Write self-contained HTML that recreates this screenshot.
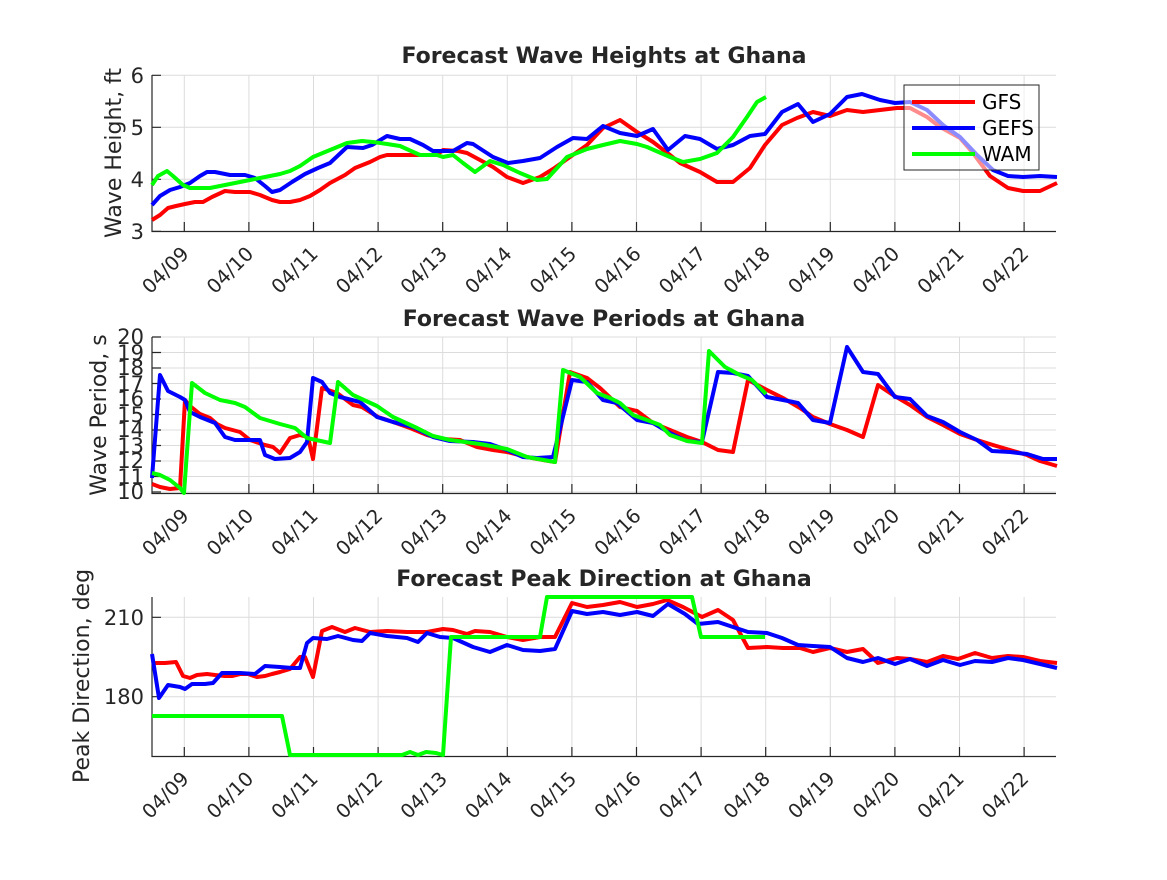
<!DOCTYPE html>
<html><head><meta charset="utf-8"><style>
html,body{margin:0;padding:0;background:#fff}
svg text{font-family:"DejaVu Sans","Liberation Sans",sans-serif;fill:#262626}
</style></head><body>
<svg width="1167" height="875" viewBox="0 0 1167 875" xmlns="http://www.w3.org/2000/svg">
<g stroke="#dcdcdc" stroke-width="1" fill="none">
<path d="M184.3 75V231M248.9 75V231M313.5 75V231M378.1 75V231M442.7 75V231M507.3 75V231M571.9 75V231M636.5 75V231M701.1 75V231M765.7 75V231M830.3 75V231M894.9 75V231M959.5 75V231M1024.1 75V231"/>
<path d="M152 75.3H1056M152 127.3H1056M152 179.3H1056"/>
<path d="M184.3 337V493M248.9 337V493M313.5 337V493M378.1 337V493M442.7 337V493M507.3 337V493M571.9 337V493M636.5 337V493M701.1 337V493M765.7 337V493M830.3 337V493M894.9 337V493M959.5 337V493M1024.1 337V493"/>
<path d="M152 337H1056M152 352.5H1056M152 368H1056M152 383.5H1056M152 399H1056M152 414.5H1056M152 430H1056M152 445.5H1056M152 461H1056M152 476.5H1056M152 492H1056"/>
<path d="M184.3 597V756M248.9 597V756M313.5 597V756M378.1 597V756M442.7 597V756M507.3 597V756M571.9 597V756M636.5 597V756M701.1 597V756M765.7 597V756M830.3 597V756M894.9 597V756M959.5 597V756M1024.1 597V756"/>
<path d="M152 617.3H1056M152 696.7H1056"/>
</g>
<g stroke="#262626" stroke-width="1.2" fill="none">
<path d="M152 75V231.5H1056"/>
<path d="M184.3 231V222M248.9 231V222M313.5 231V222M378.1 231V222M442.7 231V222M507.3 231V222M571.9 231V222M636.5 231V222M701.1 231V222M765.7 231V222M830.3 231V222M894.9 231V222M959.5 231V222M1024.1 231V222"/>
<path d="M152 75.3H161M152 127.3H161M152 179.3H161M152 231.3H161"/>
<path d="M152 337V493.5H1056"/>
<path d="M184.3 493V484M248.9 493V484M313.5 493V484M378.1 493V484M442.7 493V484M507.3 493V484M571.9 493V484M636.5 493V484M701.1 493V484M765.7 493V484M830.3 493V484M894.9 493V484M959.5 493V484M1024.1 493V484"/>
<path d="M152 337H161M152 352.5H161M152 368H161M152 383.5H161M152 399H161M152 414.5H161M152 430H161M152 445.5H161M152 461H161M152 476.5H161M152 492H161"/>
<path d="M152 597V756.5H1056"/>
<path d="M184.3 756V747M248.9 756V747M313.5 756V747M378.1 756V747M442.7 756V747M507.3 756V747M571.9 756V747M636.5 756V747M701.1 756V747M765.7 756V747M830.3 756V747M894.9 756V747M959.5 756V747M1024.1 756V747"/>
<path d="M152 617.3H161M152 696.7H161"/>
</g>

<g font-weight="bold" font-size="22" text-anchor="middle">
<text x="604" y="63">Forecast Wave Heights at Ghana</text>
<text x="604" y="326">Forecast Wave Periods at Ghana</text>
<text x="604" y="586">Forecast Peak Direction at Ghana</text>
</g>
<g font-size="22" text-anchor="middle">
<text transform="translate(121,153) rotate(-90)">Wave Height, ft</text>
<text transform="translate(106,415) rotate(-90)">Wave Period, s</text>
<text transform="translate(89,676) rotate(-90)">Peak Direction, deg</text>
</g>
<g font-size="21" text-anchor="end">
<text x="144" y="83">6</text><text x="144" y="135">5</text><text x="144" y="187">4</text><text x="144" y="239">3</text>
<text x="144" y="344">20</text><text x="144" y="360">19</text><text x="144" y="375">18</text><text x="144" y="391">17</text><text x="144" y="406">16</text><text x="144" y="422">15</text><text x="144" y="437">14</text><text x="144" y="453">13</text><text x="144" y="468">12</text><text x="144" y="484">11</text><text x="144" y="499">10</text>
<text x="144" y="625">210</text><text x="144" y="704">180</text>
</g>
<g font-size="19.5" text-anchor="end">
<text transform="translate(190,255) rotate(-45)">04/09</text>
<text transform="translate(254.6,255) rotate(-45)">04/10</text>
<text transform="translate(319.2,255) rotate(-45)">04/11</text>
<text transform="translate(383.8,255) rotate(-45)">04/12</text>
<text transform="translate(448.4,255) rotate(-45)">04/13</text>
<text transform="translate(513,255) rotate(-45)">04/14</text>
<text transform="translate(577.6,255) rotate(-45)">04/15</text>
<text transform="translate(642.2,255) rotate(-45)">04/16</text>
<text transform="translate(706.8,255) rotate(-45)">04/17</text>
<text transform="translate(771.4,255) rotate(-45)">04/18</text>
<text transform="translate(836,255) rotate(-45)">04/19</text>
<text transform="translate(900.6,255) rotate(-45)">04/20</text>
<text transform="translate(965.2,255) rotate(-45)">04/21</text>
<text transform="translate(1029.8,255) rotate(-45)">04/22</text>
</g>
<g font-size="19.5" text-anchor="end" transform="translate(0,262)">
<text transform="translate(190,255) rotate(-45)">04/09</text>
<text transform="translate(254.6,255) rotate(-45)">04/10</text>
<text transform="translate(319.2,255) rotate(-45)">04/11</text>
<text transform="translate(383.8,255) rotate(-45)">04/12</text>
<text transform="translate(448.4,255) rotate(-45)">04/13</text>
<text transform="translate(513,255) rotate(-45)">04/14</text>
<text transform="translate(577.6,255) rotate(-45)">04/15</text>
<text transform="translate(642.2,255) rotate(-45)">04/16</text>
<text transform="translate(706.8,255) rotate(-45)">04/17</text>
<text transform="translate(771.4,255) rotate(-45)">04/18</text>
<text transform="translate(836,255) rotate(-45)">04/19</text>
<text transform="translate(900.6,255) rotate(-45)">04/20</text>
<text transform="translate(965.2,255) rotate(-45)">04/21</text>
<text transform="translate(1029.8,255) rotate(-45)">04/22</text>
</g>
<g font-size="19.5" text-anchor="end" transform="translate(0,525)">
<text transform="translate(190,255) rotate(-45)">04/09</text>
<text transform="translate(254.6,255) rotate(-45)">04/10</text>
<text transform="translate(319.2,255) rotate(-45)">04/11</text>
<text transform="translate(383.8,255) rotate(-45)">04/12</text>
<text transform="translate(448.4,255) rotate(-45)">04/13</text>
<text transform="translate(513,255) rotate(-45)">04/14</text>
<text transform="translate(577.6,255) rotate(-45)">04/15</text>
<text transform="translate(642.2,255) rotate(-45)">04/16</text>
<text transform="translate(706.8,255) rotate(-45)">04/17</text>
<text transform="translate(771.4,255) rotate(-45)">04/18</text>
<text transform="translate(836,255) rotate(-45)">04/19</text>
<text transform="translate(900.6,255) rotate(-45)">04/20</text>
<text transform="translate(965.2,255) rotate(-45)">04/21</text>
<text transform="translate(1029.8,255) rotate(-45)">04/22</text>
</g>

<g fill="none" stroke-width="4" stroke-linejoin="round">
<polyline stroke="#ff0000" points="152,220 160,215 168,208 176,206 185,204 195,202 203,202 212,197 225,191 235,192 250,192 260,195 272,200 280,202 290,202 300,200 310,196 320,190 330,183 345,175 355,168 370,162 380,157 387,155 400,155 420,155 437,155 443,150 458,151 467,153 480,160 493,167 507,177 523,183 540,177 553,169 570,157 587,145 603,128 620,120 637,132 653,142 670,155 680,163 700,172 717,182 733,182 750,168 765,145 782,125 797,118 813,112 830,116 847,110 863,112 897,108 910,108 927,117 940,127 960,138 973,153 990,176 1008,188 1023,191 1040,191 1057,183"/>
<polyline stroke="#0000ff" points="152,205 160,196 170,190 180,187 190,183 200,176 207,172 215,172 230,175 245,175 255,178 265,186 272,192 280,190 292,182 305,174 318,168 330,163 347,147 363,148 372,145 387,136 400,139 410,139 423,145 433,151 453,151 467,143 473,144 493,157 508,163 523,161 540,158 557,147 573,138 587,139 603,126 620,133 637,136 653,129 668,150 685,136 700,139 717,149 733,145 750,136 765,134 782,112 798,104 813,122 830,114 847,97 862,94 880,100 895,103 910,102 927,110 943,125 960,137 977,155 993,170 1008,176 1023,177 1040,176 1057,177"/>
<polyline stroke="#00ff00" points="152,185 158,176 167,171 173,176 183,185 190,188 200,188 210,188 220,186 235,183 250,180 265,177 280,174 290,171 300,166 313,157 330,150 347,143 362,141 373,142 387,144 400,146 420,155 437,155 443,157 453,155 463,163 475,172 490,161 503,165 520,173 537,180 547,179 567,157 587,149 603,145 620,141 637,144 647,147 670,157 683,162 700,159 717,153 733,137 747,117 757,102 766,97"/>
<polyline stroke="#ff0000" points="152,484 160,487 170,489 180,488 185,400 190,406 200,414 210,418 217,424 225,428 240,432 250,440 265,445 273,447 280,453 290,438 300,435 308,437 313,459 322,388 337,393 353,405 362,407 378,417 393,422 410,428 427,435 443,439 460,440 477,447 493,450 507,452 527,457 543,460 555,462 570,372 587,378 600,388 620,407 637,411 653,423 670,430 687,437 702,442 718,450 733,452 748,380 767,390 783,398 800,408 813,417 830,424 847,430 863,437 878,385 893,395 910,405 927,417 943,425 960,434 977,440 993,445 1010,450 1027,455 1040,461 1057,466"/>
<polyline stroke="#0000ff" points="152,478 160,375 168,391 180,397 185,400 190,412 200,417 215,423 225,437 235,440 260,440 265,455 275,459 290,458 300,452 307,442 313,378 322,382 330,393 340,397 360,402 377,417 393,422 413,427 433,437 450,441 473,442 490,444 507,450 523,457 537,458 553,457 572,380 587,382 603,400 617,403 637,420 653,423 670,433 687,441 702,442 718,372 733,373 748,376 767,397 783,400 798,403 813,420 830,423 847,347 863,372 878,374 895,397 910,399 927,416 943,422 960,432 977,440 992,451 1010,452 1027,454 1043,459 1057,459"/>
<polyline stroke="#00ff00" points="152,473 160,475 170,480 180,488 184,493 192,383 205,393 220,400 235,403 245,407 260,418 280,424 295,428 307,438 330,443 338,382 353,395 377,406 393,417 417,428 433,436 450,440 480,444 507,449 527,457 555,462 563,370 580,377 597,393 610,398 620,403 633,415 647,420 660,425 670,435 687,441 702,443 709,351 725,367 740,375 752,380 766,394"/>
<polyline stroke="#ff0000" points="152,663 165,663 176,662 183,676 190,678 197,675 207,674 215,675 225,676 232,676 240,674 248,674 257,677 265,676 272,674 280,672 290,669 300,657 305,657 313,677 322,631 332,627 345,632 355,628 370,632 387,631 407,632 427,632 443,629 453,630 467,634 475,631 490,632 507,637 523,640 540,637 555,637 572,603 587,607 603,605 620,602 637,607 653,604 667,600 683,607 702,617 718,610 733,620 748,648 767,647 783,648 800,648 813,652 830,648 847,652 863,649 878,663 897,658 910,659 927,662 943,656 958,659 975,653 992,658 1008,656 1023,657 1040,661 1057,663"/>
<polyline stroke="#0000ff" points="152,654 159,698 168,685 180,687 185,689 192,684 205,684 213,683 222,673 240,673 255,674 265,666 280,667 292,668 300,668 307,643 313,638 327,639 338,636 353,640 362,641 370,633 387,636 407,638 418,642 427,633 440,637 453,638 473,647 490,652 507,645 523,650 540,651 555,649 572,611 587,614 603,612 620,615 637,612 653,616 668,604 685,614 698,624 718,622 733,627 748,632 767,633 782,638 798,645 813,646 830,647 847,658 863,662 878,658 895,664 910,659 927,666 943,660 960,665 975,661 992,662 1008,658 1023,660 1040,664 1057,668"/>
<polyline stroke="#00ff00" points="152,716 282,716 290,755 402,755 410,752 418,755 426,752 436,753 443,755 451,637 540,637 547,597 692,597 701,637 765,637"/>
</g>

<rect x="904" y="85" width="135" height="85" fill="#ffffff" fill-opacity="0.55" stroke="#262626" stroke-width="1"/>
<g stroke-width="4">
<line x1="912" y1="102" x2="975" y2="102" stroke="#ff0000"/>
<line x1="912" y1="128" x2="975" y2="128" stroke="#0000ff"/>
<line x1="912" y1="154" x2="975" y2="154" stroke="#00ff00"/>
</g>
<g font-size="20">
<text x="982" y="109" style="fill:#000">GFS</text>
<text x="982" y="135" style="fill:#000">GEFS</text>
<text x="982" y="161" style="fill:#000">WAM</text>
</g>
</svg>
</body></html>
